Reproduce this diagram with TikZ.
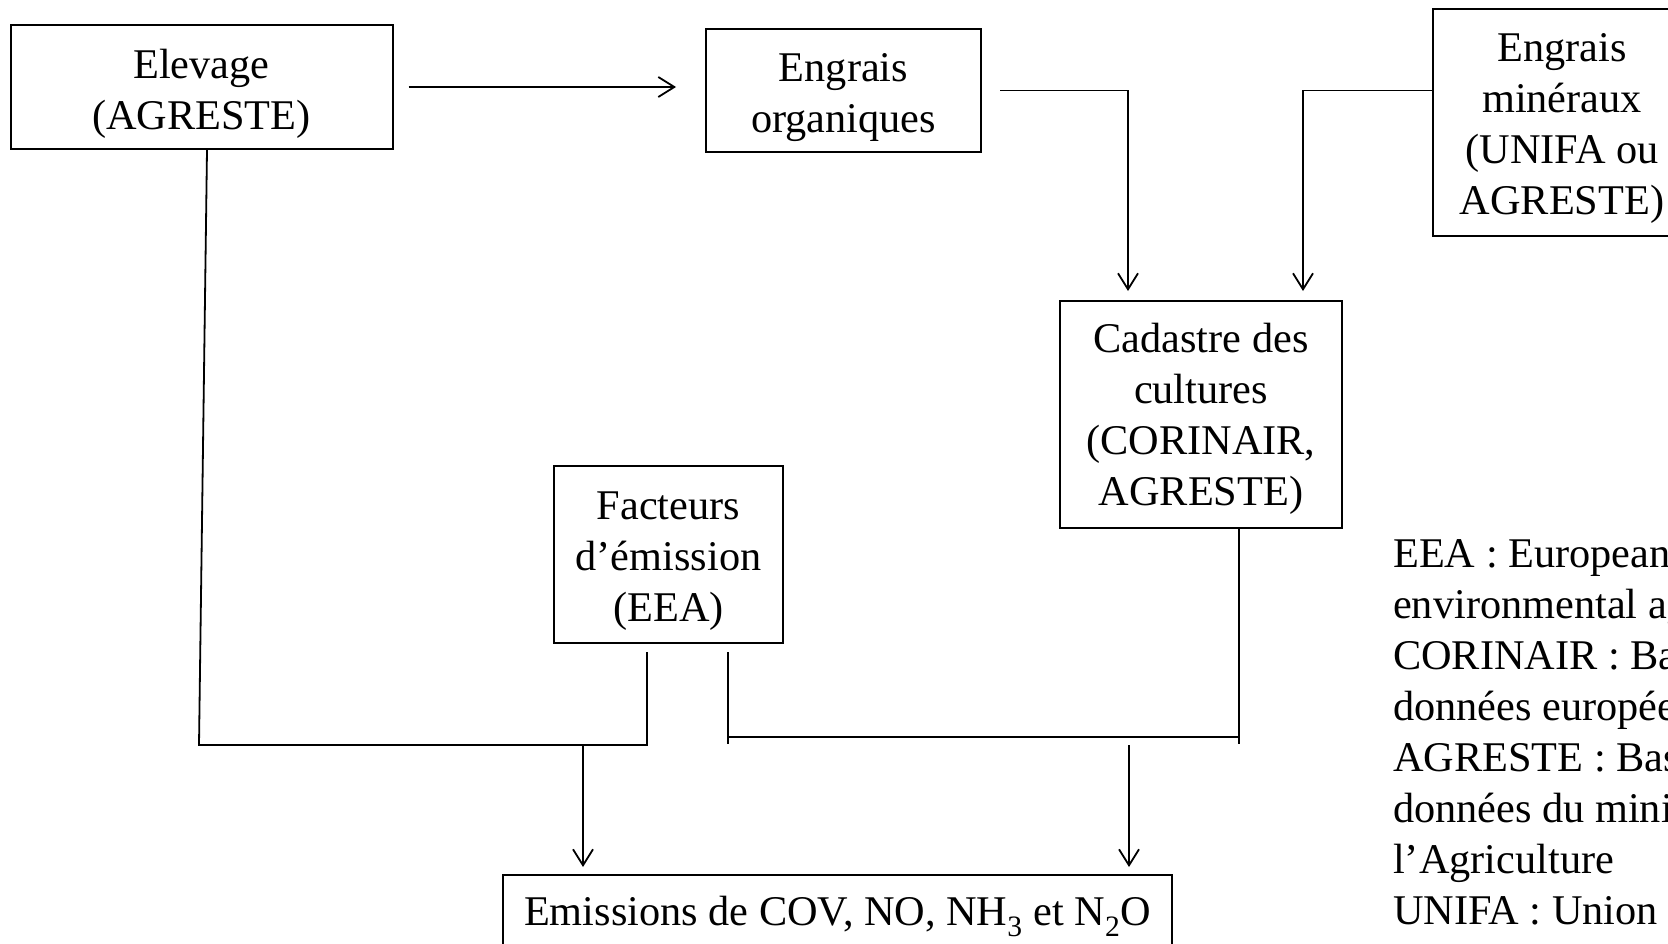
\documentclass[tikz,border=0pt]{standalone}
\usepackage{fontspec}
\setmainfont{Liberation Serif}
\usetikzlibrary{arrows.meta}
\begin{document}
\begin{tikzpicture}[x=1pt,y=-1pt,
  txt/.style={font=\fontsize{42.3}{51}\selectfont, inner sep=0pt},
  box/.style={draw, line width=2pt, inner sep=0pt},
  label/.style={txt, align=center},
  conn/.style={line width=1.8pt},
  arr/.style={conn, -{Straight Barb[length=16pt,width=20pt]}}]
\fill[white] (0,0) rectangle (1668,944);
\clip (0,0) rectangle (1668,944);
% boxes
\node[box, minimum width=382pt, minimum height=124pt] (elev) at (201.5,87) {};
\node[box, minimum width=275pt, minimum height=123pt] (org) at (843.5,90.5) {};
\node[box, minimum width=258pt, minimum height=227pt] (min) at (1562,122.5) {};
\node[box, minimum width=282pt, minimum height=227pt] (cad) at (1201,414.5) {};
\node[box, minimum width=229pt, minimum height=177pt] (fac) at (668.5,554.5) {};
\node[box, minimum width=669pt, minimum height=80pt] (emi) at (837.5,915) {};
% box texts
\node[label] (elevt) at ([yshift=-7pt]elev.center) {Elevage\\(AGRESTE)};
\node[label] (orgt) at ([yshift=-7pt]org.center) {Engrais\\organiques};
\node[label] (mint) at ([yshift=-6pt]min.center) {Engrais\\minéraux\\(UNIFA ou\\AGRESTE)};
\node[label] (cadt) at ([yshift=-4pt]cad.center) {Cadastre des\\cultures\\(CORINAIR,\\AGRESTE)};
\node[label] (fact) at ([yshift=-7pt]fac.center) {Facteurs\\d’émission\\(EEA)};
\node[label] (emit) at ([yshift=-1pt]emi.center) {Emissions de COV, NO, NH\textsubscript{3} et N\textsubscript{2}O};
% legend
\node[txt, anchor=north west, align=left] (leg) at (1393,539)
  {EEA : European\\environmental agency\\CORINAIR : Base\\données européennes\\AGRESTE : Base\\données du ministère\\l’Agriculture\\UNIFA : Union};
% junction coordinates
\coordinate (jl) at (199,745);
\coordinate (jr) at (647,745);
\coordinate (jm) at (583,745);
\coordinate (ra) at (728,744);
\coordinate (rl) at (728,737);
\coordinate (rr) at (1239,737);
\coordinate (rb) at (1239,744);
\coordinate (rm) at (1129,745);
% connectors
\draw[arr, shorten <=15pt, shorten >=29pt] (elev.east) -- (elev.east -| org.west);
\draw[arr, shorten <=18pt, shorten >=9pt] (org.east) -| ([xshift=-73pt]cad.north);
\draw[arr, shorten >=9pt] (min.west |- org.east) -| ([xshift=102pt]cad.north);
\draw[conn] ([xshift=5.5pt]elev.south) -- (jl) -- (jr) -- ([xshift=-21.5pt,yshift=-8pt]fac.south);
\draw[arr, shorten >=7pt] (jm) -- (jm |- emi.north);
\draw[conn] ([xshift=59.5pt,yshift=-8pt]fac.south) -- (ra);
\draw[conn] (rl) -- (rr);
\draw[conn] ([xshift=38pt]cad.south) -- (rb);
\draw[arr, shorten >=7pt] (rm) -- (rm |- emi.north);
\end{tikzpicture}
\end{document}
